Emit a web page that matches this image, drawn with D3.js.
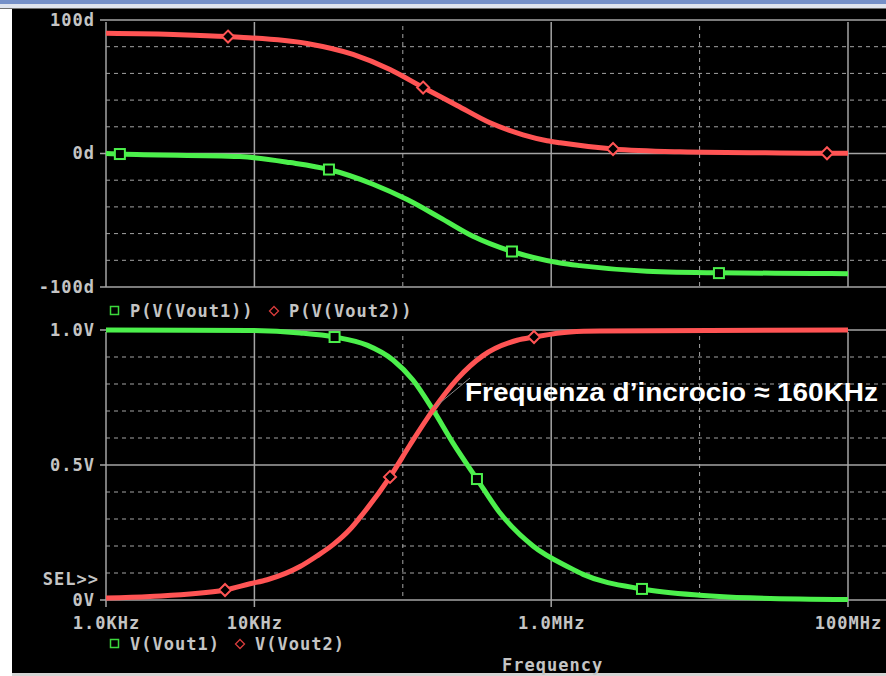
<!DOCTYPE html>
<html>
<head>
<meta charset="utf-8">
<script src="https://cdn.jsdelivr.net/npm/d3@7"></script>
<style>
	html, body { margin: 0; padding: 0; background: #fff; }
	svg { display: block; }
</style>
</head>
<body>
<div id="chart"></div>
<script>
// phase of V(Vout1), V(Vout2) in degrees
var phaseFreq1 = [1000, 1240, 8000, 17400, 31800, 63000, 107e3, 178e3, 297e3, 544e3, 1.15e6, 1.56e6, 4.42e6, 13.5e6, 58.1e6, 100e6];
var phaseVal1 = [0, -0.4, -2.3, -6.8, -12, -23, -34.5, -48, -62, -73.4, -82, -84, -88.2, -89.4, -89.8, -90];
var phaseFreq2 = [1000, 3150, 6640, 8000, 22600, 46200, 82000, 137e3, 232e3, 387e3, 646e3, 937e3, 1.15e6, 2.61e6, 7.38e6, 34.8e6, 72.2e6, 100e6];
var phaseVal2 = [90, 89, 87.6, 87.1, 82.4, 74.2, 62.9, 49.4, 36, 23, 14, 9.6, 8, 3.4, 1.3, 0.4, 0.2, 0.1];

// magnitude in volts
var magFreq1 = [1000, 9340, 20300, 34700, 57400, 85900, 117e3, 160e3, 218e3, 316e3, 452e3, 754e3, 1.34e6, 1.64e6, 4.09e6, 10e6, 21.9e6, 100e6];
var magVal1 = [1.0, 0.998, 0.989, 0.974, 0.944, 0.889, 0.815, 0.704, 0.581, 0.448, 0.322, 0.2, 0.119, 0.095, 0.041, 0.018, 0.008, 0.002];
var magFreq2 = [1000, 1980, 6340, 9340, 12200, 20300, 26400, 33900, 44100, 51500, 82000, 112e3, 160e3, 232e3, 347e3, 589e3, 766e3, 1.34e6, 2.13e6, 100e6];
var magVal2 = [0.007, 0.013, 0.037, 0.06, 0.075, 0.124, 0.163, 0.205, 0.262, 0.306, 0.456, 0.575, 0.704, 0.818, 0.905, 0.962, 0.974, 0.993, 0.996, 1.0];

// marker symbols
var phaseMark1 = [[1240, -0.4], [31800, -12], [544e3, -73.4], [13.5e6, -89.6]];
var phaseMark2 = [[6640, 87.6], [137e3, 49.4], [2.61e6, 3.4], [72.2e6, 0.2]];
var magMark1 = [[34700, 0.974], [316e3, 0.448], [4.09e6, 0.041]];
var magMark2 = [[6340, 0.037], [82000, 0.456], [766e3, 0.974]];

var freqTicks = [1e3, 1e4, 1e6, 1e8];
var freqLabels = ['1.0KHz', '10KHz', '1.0MHz', '100MHz'];
var freqGridSolid = [1e4, 1e6, 1e8];
var freqGridDash = [1e5, 1e7];
var phaseTicks = [-100, 0, 100];
var phaseGrid = [-80, -60, -40, -20, 20, 40, 60, 80];
var magTicks = [0, 0.5, 1];
var magLabels = ['0V', '0.5V', '1.0V'];
var magGrid = [0.1, 0.2, 0.3, 0.4, 0.6, 0.7, 0.8, 0.9];

var W = 886, H = 676;
var RED = '#ff5454', GREEN = '#4cf04c', GRID = '#a4a4a4', TXT = '#c4c4c4';
var MONO = '"DejaVu Sans Mono", monospace';

var svg = d3.select('#chart').append('svg')
	.attr('width', W)
	.attr('height', H);

// window frame
svg.append('rect').attr('x', 0).attr('y', 0).attr('width', W).attr('height', 4).attr('fill', '#7590c8');
svg.append('rect').attr('x', 0).attr('y', 4).attr('width', W).attr('height', 4).attr('fill', '#dfe4ee');
svg.append('rect').attr('x', 0).attr('y', 8).attr('width', W).attr('height', 1).attr('fill', '#707070');
svg.append('rect').attr('x', 12).attr('y', 9).attr('width', W - 12).attr('height', 664).attr('fill', '#000');
svg.append('rect').attr('x', 12).attr('y', 673).attr('width', W - 12).attr('height', 3).attr('fill', '#d4d4d4');

var x = d3.scaleLog().domain([1e3, 1e8]).range([106, 848]);
var yP = d3.scaleLinear().domain([-100, 100]).range([287, 20]);
var yM = d3.scaleLinear().domain([0, 1]).range([600, 330]);
var rightEdge = W;

function zip(fs, vs) {
	return fs.map(function(f, i) { return [f, vs[i]]; });
}

function drawPanel(y, hSolid, hDash, yTop, yBot, tickBelow) {
	var g = svg.append('g');

	hDash.forEach(function(v) {
		g.append('line')
			.attr('x1', 106).attr('x2', rightEdge)
			.attr('y1', y(v)).attr('y2', y(v))
			.attr('stroke', GRID).attr('stroke-width', 1)
			.attr('stroke-dasharray', '4,4');
	});
	freqGridDash.forEach(function(f) {
		g.append('line')
			.attr('x1', x(f)).attr('x2', x(f))
			.attr('y1', yTop + 6).attr('y2', yBot)
			.attr('stroke', GRID).attr('stroke-width', 1)
			.attr('stroke-dasharray', '4,4');
	});
	hSolid.forEach(function(v) {
		g.append('line')
			.attr('x1', 100).attr('x2', rightEdge)
			.attr('y1', y(v)).attr('y2', y(v))
			.attr('stroke', GRID).attr('stroke-width', 1.5);
	});
	[1e3].concat(freqGridSolid).forEach(function(f) {
		g.append('line')
			.attr('x1', x(f)).attr('x2', x(f))
			.attr('y1', yTop + 2).attr('y2', yBot + tickBelow)
			.attr('stroke', GRID).attr('stroke-width', 1.5);
	});
	return g;
}

function drawCurve(g, data, y, color) {
	var line = d3.line()
		.x(function(d) { return x(d[0]); })
		.y(function(d) { return y(d[1]); })
		.curve(d3.curveMonotoneX);
	g.append('path')
		.datum(data)
		.attr('d', line)
		.attr('fill', 'none')
		.attr('stroke', color)
		.attr('stroke-width', 5);
}

function drawSquares(g, pts, y) {
	g.selectAll(null).data(pts).enter().append('rect')
		.attr('x', function(d) { return x(d[0]) - 5; })
		.attr('y', function(d) { return y(d[1]) - 5; })
		.attr('width', 10).attr('height', 10)
		.attr('fill', '#000')
		.attr('stroke', GREEN).attr('stroke-width', 2);
}

function drawDiamonds(g, pts, y) {
	g.selectAll(null).data(pts).enter().append('path')
		.attr('transform', function(d) { return 'translate(' + x(d[0]) + ',' + y(d[1]) + ')'; })
		.attr('d', 'M0,-6L6,0L0,6L-6,0Z')
		.attr('fill', '#000')
		.attr('stroke', RED).attr('stroke-width', 2);
}

function styleAxis(g) {
	g.select('.domain').remove();
	g.selectAll('line').remove();
	g.selectAll('text')
		.attr('fill', TXT)
		.style('font-family', MONO)
		.style('font-weight', 'bold')
		.style('font-size', '17px')
		.style('letter-spacing', '1px');
}

// phase panel
var phasePanel = drawPanel(yP, phaseTicks, phaseGrid, 20, 287, 0);
drawCurve(phasePanel, zip(phaseFreq1, phaseVal1), yP, GREEN);
drawCurve(phasePanel, zip(phaseFreq2, phaseVal2), yP, RED);
drawSquares(phasePanel, phaseMark1, yP);
drawDiamonds(phasePanel, phaseMark2, yP);

svg.append('g')
	.attr('transform', 'translate(106,0)')
	.call(d3.axisLeft(yP).tickValues(phaseTicks).tickSize(6).tickPadding(5)
		.tickFormat(function(d) { return d + 'd'; }))
	.call(styleAxis);

// magnitude panel
var magPanel = drawPanel(yM, magTicks, magGrid, 330, 600, 7);
drawCurve(magPanel, zip(magFreq1, magVal1), yM, GREEN);
drawCurve(magPanel, zip(magFreq2, magVal2), yM, RED);
drawSquares(magPanel, magMark1, yM);
drawDiamonds(magPanel, magMark2, yM);

svg.append('g')
	.attr('transform', 'translate(106,0)')
	.call(d3.axisLeft(yM).tickValues(magTicks).tickSize(6).tickPadding(5)
		.tickFormat(function(d, i) { return magLabels[i]; }))
	.call(styleAxis);

svg.append('g')
	.attr('transform', 'translate(0,600)')
	.call(d3.axisBottom(x).tickValues(freqTicks).tickSize(7).tickPadding(10)
		.tickFormat(function(d, i) { return freqLabels[i]; }))
	.call(styleAxis);

function monoText(str, tx, ty, anchor) {
	return svg.append('text')
		.attr('x', tx).attr('y', ty)
		.attr('dy', '0.35em')
		.attr('text-anchor', anchor || 'start')
		.attr('fill', TXT)
		.style('font-family', MONO)
		.style('font-weight', 'bold')
		.style('font-size', '17px')
		.style('letter-spacing', '1px')
		.text(str);
}

monoText('SEL>>', 99, 579, 'end');

// legends
function legend(yy, names, x1, x2) {
	svg.append('rect')
		.attr('x', 110.5).attr('y', yy - 4.5).attr('width', 8).attr('height', 8)
		.attr('fill', 'none').attr('stroke', '#3cd83c').attr('stroke-width', 1.5);
	monoText(names[0], 130, yy);
	svg.append('path')
		.attr('transform', 'translate(' + x1 + ',' + yy + ')')
		.attr('d', 'M0,-4.5L4.5,0L0,4.5L-4.5,0Z')
		.attr('fill', 'none').attr('stroke', '#d83c3c').attr('stroke-width', 1.3);
	monoText(names[1], x2, yy);
}
legend(311, ['P(V(Vout1))', 'P(V(Vout2))'], 274, 289);
legend(644, ['V(Vout1)', 'V(Vout2)'], 240, 255);

monoText('Frequency', 502, 665);

// annotation
svg.append('line')
	.attr('x1', 435).attr('y1', 407)
	.attr('x2', 470).attr('y2', 378)
	.attr('stroke', '#8a8a8a').attr('stroke-width', 1);

svg.append('text')
	.attr('x', 465).attr('y', 401)
	.attr('fill', '#fff')
	.attr('textLength', 413)
	.attr('lengthAdjust', 'spacingAndGlyphs')
	.style('font-family', '"Liberation Sans", Arial, sans-serif')
	.style('font-weight', 'bold')
	.style('font-size', '26px')
	.text('Frequenza d’incrocio ≈ 160KHz');
</script>
</body>
</html>
